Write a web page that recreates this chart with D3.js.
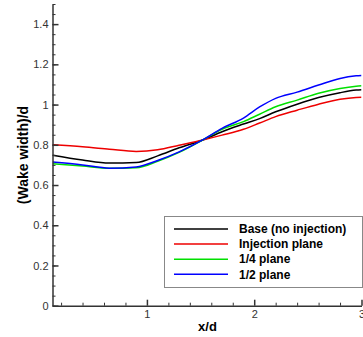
<!DOCTYPE html>
<html>
<head>
<meta charset="utf-8">
<script src="https://cdn.jsdelivr.net/npm/d3@7"></script>
<style>
  body { margin: 0; background: #fff; }
  svg { display: block; font-family: Arial, "Liberation Sans", sans-serif; }
</style>
</head>
<body>
<svg id="chart" width="363" height="337"></svg>
<script>
// x positions (x/d) shared by all series
const xVals = [0.12, 0.4, 0.65, 0.9, 1.1, 1.3, 1.52, 1.7, 1.9, 2.05, 2.2, 2.4, 2.6, 2.8, 2.95, 3.0];

const baseVals      = [0.748, 0.724, 0.709, 0.712, 0.745, 0.785, 0.824, 0.865, 0.903, 0.930, 0.964, 1.002, 1.035, 1.059, 1.072, 1.074];
const injectionVals = [0.800, 0.790, 0.778, 0.767, 0.775, 0.798, 0.824, 0.848, 0.877, 0.908, 0.940, 0.972, 1.002, 1.026, 1.035, 1.036];
const quarterVals   = [0.706, 0.694, 0.683, 0.686, 0.718, 0.762, 0.824, 0.877, 0.915, 0.952, 0.989, 1.022, 1.056, 1.080, 1.091, 1.093];
const halfVals      = [0.714, 0.700, 0.684, 0.690, 0.722, 0.765, 0.824, 0.882, 0.933, 0.988, 1.031, 1.062, 1.097, 1.130, 1.143, 1.145];

const seriesNames = ['Base (no injection)', 'Injection plane', '1/4 plane', '1/2 plane'];
const seriesColors = ['#000000', '#ee0000', '#00e000', '#0000ff'];

const yMajorTicks = [0, 0.2, 0.4, 0.6, 0.8, 1, 1.2, 1.4];
const yMinorTicks = d3.range(0, 1.5001, 0.05);
const xMajorTicks = [1, 2, 3];
const xMinorTicks = [0.2, 0.4, 0.6, 0.8, 1.2, 1.4, 1.6, 1.8, 2.2, 2.4, 2.6, 2.8];

const series = [baseVals, injectionVals, quarterVals, halfVals].map((vals, i) => ({
  name: seriesNames[i],
  color: seriesColors[i],
  values: vals.map((v, j) => ({ x: xVals[j], y: v }))
}));

const svg = d3.select('#chart');
const margin = { top: 4, right: 1.5, bottom: 31.3, left: 52.5 };
const width = +svg.attr('width');
const height = +svg.attr('height');

const x = d3.scaleLinear()
  .domain([0.12, 3])
  .range([margin.left, width - margin.right]);

const y = d3.scaleLinear()
  .domain([0, 1.5])
  .range([height - margin.bottom, margin.top]);

svg.append('defs').append('clipPath')
  .attr('id', 'plot-clip')
  .append('rect')
  .attr('x', margin.left)
  .attr('y', margin.top)
  .attr('width', width - margin.right - margin.left)
  .attr('height', height - margin.bottom - margin.top);

const line = d3.line()
  .curve(d3.curveMonotoneX)
  .x(d => x(d.x))
  .y(d => y(d.y));

svg.append('g')
  .attr('clip-path', 'url(#plot-clip)')
  .selectAll('path')
  .data(series)
  .enter().append('path')
  .attr('fill', 'none')
  .attr('stroke', d => d.color)
  .attr('stroke-width', 1.5)
  .attr('d', d => line(d.values));

// axes, ticks pointing inward
const axisColor = '#333';

const yMinor = svg.append('g')
  .attr('transform', `translate(${margin.left},0)`)
  .call(d3.axisLeft(y).tickValues(yMinorTicks).tickSizeInner(-3).tickSizeOuter(0).tickFormat(''));
yMinor.select('.domain').remove();

const yAxis = svg.append('g')
  .attr('transform', `translate(${margin.left},0)`)
  .call(d3.axisLeft(y).tickValues(yMajorTicks).tickSizeInner(-6).tickSizeOuter(0)
    .tickPadding(4).tickFormat(d => String(+d.toFixed(1))));

const xMinor = svg.append('g')
  .attr('transform', `translate(0,${height - margin.bottom})`)
  .call(d3.axisBottom(x).tickValues(xMinorTicks).tickSizeInner(-3).tickSizeOuter(0).tickFormat(''));
xMinor.select('.domain').remove();

const xAxis = svg.append('g')
  .attr('transform', `translate(0,${height - margin.bottom})`)
  .call(d3.axisBottom(x).tickValues(xMajorTicks).tickSizeInner(-6).tickSizeOuter(0)
    .tickPadding(5).tickFormat(d3.format('d')));

[yMinor, yAxis, xMinor, xAxis].forEach(g => {
  g.selectAll('line').attr('stroke', axisColor);
  g.selectAll('.domain').attr('stroke', axisColor).attr('stroke-width', 1.5);
  g.selectAll('text').attr('fill', '#333').style('font-size', '11px');
});
yAxis.selectAll('.tick line').attr('stroke-width', 1.5);
xAxis.selectAll('.tick line').attr('stroke-width', 1.5);

// axis titles
svg.append('text')
  .attr('x', 207.5)
  .attr('y', 331)
  .attr('text-anchor', 'middle')
  .style('font-size', '13px')
  .style('font-weight', 'bold')
  .text('x/d');

svg.append('text')
  .attr('transform', 'translate(28,155) rotate(-90)')
  .attr('text-anchor', 'middle')
  .style('font-size', '14px')
  .style('font-weight', 'bold')
  .text('(Wake width)/d');

// legend
const legend = svg.append('g').attr('transform', 'translate(164,216)');

legend.append('rect')
  .attr('x', 0.5)
  .attr('y', 0.5)
  .attr('width', 198)
  .attr('height', 71)
  .attr('fill', '#fff')
  .attr('stroke', '#888');

const items = legend.selectAll('.item')
  .data(series)
  .enter().append('g')
  .attr('class', 'item')
  .attr('transform', (d, i) => `translate(0,${13 + i * 15.1})`);

items.append('line')
  .attr('x1', 10)
  .attr('x2', 64)
  .attr('stroke', d => d.color)
  .attr('stroke-width', 1.5);

items.append('text')
  .attr('x', 75)
  .attr('dy', '0.35em')
  .style('font-size', '12px')
  .style('font-weight', 'bold')
  .text(d => d.name);
</script>
</body>
</html>
